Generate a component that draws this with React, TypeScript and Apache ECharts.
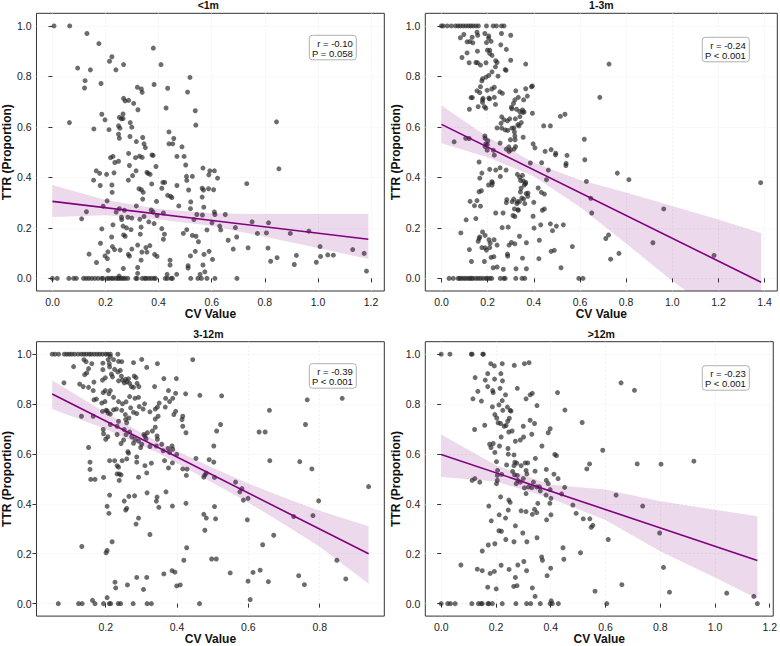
import React, { useEffect, useRef } from "react";
import * as echarts from "echarts";

// ---- panel labels and statistics ----
const panelTitles = ["<1m", "1-3m", "3-12m", ">12m"];
const statR = ["r = -0.10", "r = -0.24", "r = -0.39", "r = -0.23"];
const statP = ["P = 0.058", "P < 0.001", "P < 0.001", "P < 0.001"];

// ---- axis ticks and ranges ----
const yTicks = [0, 0.2, 0.4, 0.6, 0.8, 1.0];
const xTicksLt1m = [0, 0.2, 0.4, 0.6, 0.8, 1.0, 1.2];
const xTicks1to3m = [0, 0.2, 0.4, 0.6, 0.8, 1.0, 1.2, 1.4];
const xTicks3to12m = [0.2, 0.4, 0.6, 0.8];
const xTicksGt12m = [0, 0.2, 0.4, 0.6, 0.8, 1.0, 1.2];
const xRangeLt1m = [-0.06, 1.25];
const xRange1to3m = [-0.07, 1.455];
const xRange3to12m = [0.006, 0.981];
const xRangeGt12m = [-0.058, 1.213];
const yRange = [-0.05, 1.05];

// ---- scatter points: [CV, TTR] ----
const pointsLt1m: number[][] = [
  [0.006, 1.0], [0.065, 1.0], [0.13, 0.97], [0.175, 0.93], [0.38, 0.912], [0.224, 0.878], [0.215, 0.86],
  [0.409, 0.847], [0.268, 0.847], [0.095, 0.833], [0.143, 0.826], [0.239, 0.826], [0.518, 0.796],
  [0.123, 0.783], [0.121, 0.754], [0.183, 0.772], [0.383, 0.768], [0.32, 0.757], [0.335, 0.75],
  [0.338, 0.737], [0.434, 0.753], [0.509, 0.738], [0.268, 0.713], [0.274, 0.703], [0.287, 0.705],
  [0.306, 0.693], [0.322, 0.668], [0.428, 0.675], [0.538, 0.664], [0.266, 0.651], [0.186, 0.65],
  [0.252, 0.638], [0.266, 0.633], [0.26, 0.632], [0.198, 0.628], [0.064, 0.617], [0.293, 0.617],
  [0.299, 0.599], [0.249, 0.604], [0.254, 0.595], [0.54, 0.607], [0.156, 0.592], [0.213, 0.589],
  [0.249, 0.571], [0.252, 0.555], [0.439, 0.58], [0.457, 0.554], [0.453, 0.533], [0.439, 0.533],
  [0.292, 0.562], [0.34, 0.558], [0.345, 0.533], [0.35, 0.518], [0.316, 0.542], [0.488, 0.521],
  [0.469, 0.483], [0.496, 0.483], [0.502, 0.449], [0.287, 0.495], [0.375, 0.489], [0.379, 0.487],
  [0.338, 0.479], [0.313, 0.478], [0.328, 0.484], [0.219, 0.478], [0.228, 0.483], [0.235, 0.459],
  [0.249, 0.464], [0.29, 0.447], [0.39, 0.443], [0.356, 0.42], [0.36, 0.416], [0.315, 0.426],
  [0.368, 0.412], [0.567, 0.437], [0.593, 0.426], [0.61, 0.426], [0.589, 0.41], [0.622, 0.397],
  [0.853, 0.434], [0.844, 0.62], [0.165, 0.426], [0.178, 0.416], [0.204, 0.412], [0.232, 0.418],
  [0.302, 0.407], [0.155, 0.389], [0.286, 0.389], [0.505, 0.404], [0.506, 0.388], [0.527, 0.404],
  [0.416, 0.38], [0.423, 0.38], [0.374, 0.374], [0.18, 0.368], [0.224, 0.37], [0.469, 0.368],
  [0.732, 0.375], [0.326, 0.355], [0.335, 0.351], [0.412, 0.357], [0.564, 0.357], [0.569, 0.35],
  [0.588, 0.355], [0.607, 0.351], [0.513, 0.35], [0.342, 0.341], [0.225, 0.341], [0.434, 0.329],
  [0.445, 0.325], [0.45, 0.32], [0.564, 0.322], [0.392, 0.305], [0.206, 0.307], [0.521, 0.303],
  [0.34, 0.314], [0.191, 0.286], [0.316, 0.287], [0.476, 0.287], [0.57, 0.282], [0.252, 0.276],
  [0.52, 0.276], [0.372, 0.271], [0.271, 0.27], [0.24, 0.263], [0.128, 0.264], [0.379, 0.263],
  [0.418, 0.259], [0.394, 0.249], [0.61, 0.263], [0.612, 0.253], [0.651, 0.253], [0.544, 0.253],
  [0.565, 0.251], [0.26, 0.242], [0.284, 0.242], [0.345, 0.245], [0.11, 0.236], [0.299, 0.239],
  [0.261, 0.233], [0.329, 0.234], [0.533, 0.233], [0.752, 0.224], [0.814, 0.22], [0.601, 0.22],
  [0.363, 0.224], [0.228, 0.212], [0.266, 0.207], [0.279, 0.2], [0.334, 0.203], [0.383, 0.217],
  [0.412, 0.197], [0.63, 0.207], [0.689, 0.201], [0.634, 0.192], [0.186, 0.196], [0.296, 0.193],
  [0.506, 0.193], [0.582, 0.192], [0.966, 0.187], [0.493, 0.178], [0.772, 0.178], [0.806, 0.18],
  [0.896, 0.178], [0.527, 0.17], [0.331, 0.175], [0.268, 0.172], [0.274, 0.167], [0.422, 0.175],
  [0.223, 0.164], [0.541, 0.167], [0.662, 0.151], [0.694, 0.164], [0.418, 0.155], [0.181, 0.139],
  [0.226, 0.126], [0.352, 0.122], [0.321, 0.132], [0.367, 0.13], [0.55, 0.145], [0.737, 0.121],
  [0.812, 0.12], [1.008, 0.126], [1.131, 0.114], [0.681, 0.116], [0.234, 0.114], [0.299, 0.116],
  [0.255, 0.112], [0.538, 0.107], [0.59, 0.107], [0.138, 0.096], [0.209, 0.105], [0.356, 0.104],
  [0.337, 0.104], [1.174, 0.099], [0.198, 0.089], [0.286, 0.095], [0.29, 0.088], [0.385, 0.095],
  [0.394, 0.087], [0.52, 0.089], [0.571, 0.095], [0.919, 0.091], [1.037, 0.093], [1.058, 0.092],
  [1.01, 0.087], [0.846, 0.082], [0.207, 0.078], [0.334, 0.072], [0.443, 0.072], [0.603, 0.075],
  [0.166, 0.063], [0.822, 0.068], [0.994, 0.064], [0.911, 0.055], [0.567, 0.053], [0.443, 0.053],
  [0.511, 0.05], [0.321, 0.043], [0.511, 0.041], [0.267, 0.039], [0.21, 0.032], [1.183, 0.029],
  [0.574, 0.026], [0.321, 0.02], [0.432, 0.016], [0.468, 0.016], [0.556, 0.016], [0.251, 0.009],
  [0, 0], [0.018, 0], [0.062, 0], [0.08, 0], [0.09, 0], [0.117, 0], [0.127, 0], [0.137, 0], [0.148, 0],
  [0.16, 0], [0.172, 0], [0.185, 0], [0.191, 0], [0.206, 0], [0.213, 0], [0.222, 0], [0.228, 0],
  [0.238, 0], [0.246, 0], [0.252, 0], [0.26, 0], [0.267, 0], [0.274, 0], [0.284, 0], [0.314, 0],
  [0.319, 0], [0.338, 0], [0.348, 0], [0.353, 0], [0.363, 0], [0.372, 0], [0.382, 0], [0.388, 0],
  [0.425, 0], [0.433, 0], [0.447, 0], [0.452, 0], [0.521, 0], [0.548, 0], [0.561, 0], [0.582, 0],
  [0.612, 0], [0.695, 0],
];

const points1to3m: number[][] = [
  [0, 1], [0.007, 1], [0.025, 1], [0.043, 1], [0.061, 1], [0.072, 1], [0.082, 1], [0.094, 1], [0.105, 1],
  [0.117, 1], [0.127, 1], [0.137, 1], [0.149, 1], [0.16, 1], [0.195, 1], [0.224, 1], [0.238, 1], [0.26, 1],
  [0.271, 1],
  [0.082, 0.953], [0.097, 0.966], [0.111, 0.937], [0.123, 0.938], [0.133, 0.955], [0.089, 0.875],
  [0.111, 0.893], [0.12, 0.854], [0.136, 0.933], [0.154, 0.975], [0.156, 0.9], [0.157, 0.963],
  [0.149, 0.855], [0.156, 0.854], [0.169, 0.845], [0.188, 0.97], [0.195, 0.934], [0.205, 0.96],
  [0.204, 0.951], [0.215, 0.939], [0.199, 0.904], [0.209, 0.904], [0.193, 0.854], [0.209, 0.891],
  [0.219, 0.883], [0.241, 0.855], [0.26, 0.97], [0.257, 0.925], [0.281, 0.907], [0.235, 0.862],
  [0.276, 0.827], [0.28, 0.824], [0.3, 0.963], [0.3, 0.864], [0.234, 0.838], [0.245, 0.801],
  [0.219, 0.818], [0.726, 0.849], [0.365, 0.849],
  [0.178, 0.791], [0.175, 0.782], [0.193, 0.797], [0.205, 0.804], [0.169, 0.759], [0.154, 0.743],
  [0.166, 0.736], [0.198, 0.745], [0.218, 0.75], [0.229, 0.757], [0.253, 0.739], [0.264, 0.733],
  [0.128, 0.716], [0.134, 0.716], [0.18, 0.713], [0.205, 0.714], [0.209, 0.711], [0.229, 0.717],
  [0.178, 0.707], [0.178, 0.697], [0.186, 0.68], [0.192, 0.674], [0.159, 0.68], [0.121, 0.67],
  [0.234, 0.689], [0.261, 0.64], [0.258, 0.614], [0.271, 0.628], [0.286, 0.624], [0.276, 0.588],
  [0.261, 0.595], [0.287, 0.586], [0.241, 0.596], [0.322, 0.743], [0.333, 0.717], [0.365, 0.751],
  [0.394, 0.762], [0.39, 0.759], [0.372, 0.722], [0.356, 0.707], [0.318, 0.707], [0.312, 0.693],
  [0.305, 0.672], [0.303, 0.678], [0.325, 0.67], [0.339, 0.661], [0.351, 0.667], [0.352, 0.658],
  [0.34, 0.641], [0.32, 0.632], [0.296, 0.632], [0.346, 0.617], [0.331, 0.609], [0.314, 0.596],
  [0.305, 0.595], [0.316, 0.58], [0.394, 0.654], [0.358, 0.659], [0.336, 0.604],
  [0.686, 0.717], [0.515, 0.642], [0.535, 0.65], [0.472, 0.604], [0.443, 0.604],
  [0.188, 0.564], [0.189, 0.555], [0.105, 0.555], [0.12, 0.554], [0.055, 0.541], [0.192, 0.533],
  [0.201, 0.545], [0.199, 0.53], [0.189, 0.522], [0.198, 0.508], [0.225, 0.507], [0.229, 0.488],
  [0.254, 0.536], [0.281, 0.512], [0.3, 0.509], [0.293, 0.503], [0.318, 0.564], [0.319, 0.549],
  [0.321, 0.522], [0.315, 0.512], [0.292, 0.521], [0.354, 0.559], [0.397, 0.533], [0.405, 0.517],
  [0.299, 0.549],
  [0.475, 0.51], [0.494, 0.489], [0.495, 0.496], [0.449, 0.503], [0.434, 0.458], [0.385, 0.457],
  [0.54, 0.455], [0.539, 0.447], [0.544, 0.487], [0.619, 0.551], [0.621, 0.47], [0.628, 0.384],
  [0.163, 0.461], [0.175, 0.417], [0.166, 0.397], [0.209, 0.432], [0.221, 0.379], [0.219, 0.37],
  [0.254, 0.438], [0.255, 0.404], [0.235, 0.429], [0.28, 0.429], [0.329, 0.412], [0.339, 0.4],
  [0.351, 0.408], [0.343, 0.387], [0.355, 0.386], [0.364, 0.375], [0.359, 0.37], [0.345, 0.357],
  [0.342, 0.342], [0.367, 0.336], [0.374, 0.325], [0.375, 0.338], [0.365, 0.38], [0.329, 0.304],
  [0.327, 0.296], [0.338, 0.304], [0.348, 0.318], [0.356, 0.314], [0.361, 0.296], [0.313, 0.314],
  [0.306, 0.304], [0.283, 0.312], [0.281, 0.3], [0.316, 0.275], [0.31, 0.249], [0.318, 0.245],
  [0.331, 0.272], [0.333, 0.27], [0.267, 0.259], [0.235, 0.259], [0.163, 0.343], [0.173, 0.347],
  [0.154, 0.308], [0.169, 0.286], [0.143, 0.288], [0.124, 0.305], [0.107, 0.232], [0.149, 0.237],
  [0.4, 0.301], [0.397, 0.246], [0.401, 0.199], [0.419, 0.358], [0.433, 0.341], [0.446, 0.334],
  [0.446, 0.275], [0.437, 0.27], [0.455, 0.391], [0.43, 0.212], [0.472, 0.216], [0.481, 0.189],
  [0.498, 0.207], [0.528, 0.212], [0.463, 0.429], [0.424, 0.151], [0.422, 0.078], [0.475, 0.107],
  [0.489, 0.111], [0.518, 0.042], [0.567, 0.126], [0.647, 0.317], [0.651, 0.259], [0.762, 0.417],
  [0.812, 0.391], [0.712, 0.158], [0.724, 0.172], [0.733, 0.076], [0.769, 0.099], [0.916, 0.141],
  [0.963, 0.275], [1.181, 0.091], [1.383, 0.379], [0.204, 0.37], [0.218, 0.383],
  [0.084, 0.18], [0.121, 0.114], [0.13, 0.067], [0.159, 0.147], [0.163, 0.158], [0.166, 0.164],
  [0.178, 0.184], [0.189, 0.17], [0.175, 0.122], [0.189, 0.121], [0.195, 0.112], [0.206, 0.153],
  [0.211, 0.139], [0.209, 0.122], [0.186, 0.067], [0.215, 0.083], [0.227, 0.086], [0.228, 0.153],
  [0.241, 0.132], [0.241, 0.045], [0.224, 0.042], [0.268, 0.036], [0.287, 0.088], [0.286, 0.096],
  [0.293, 0.132], [0.289, 0.203], [0.263, 0.201], [0.303, 0.142], [0.318, 0.137], [0.338, 0.167],
  [0.351, 0.08], [0.368, 0.141], [0.323, 0.038], [0.368, 0.038],
  [0.033, 0], [0.051, 0], [0.072, 0], [0.079, 0], [0.087, 0], [0.097, 0], [0.105, 0], [0.115, 0],
  [0.123, 0], [0.13, 0], [0.137, 0], [0.149, 0], [0.159, 0], [0.169, 0], [0.18, 0], [0.192, 0],
  [0.199, 0], [0.209, 0], [0.218, 0], [0.255, 0], [0.27, 0], [0.276, 0], [0.322, 0], [0.349, 0],
  [0.361, 0], [0.595, 0], [0.613, 0],
];

const points3to12m: number[][] = [
  [0.05, 1], [0.058, 1], [0.068, 1], [0.084, 1], [0.091, 1], [0.098, 1], [0.105, 1], [0.113, 1],
  [0.123, 1], [0.132, 1], [0.139, 1], [0.146, 1], [0.154, 1], [0.16, 1], [0.168, 1], [0.176, 1],
  [0.183, 1], [0.191, 1], [0.2, 1], [0.206, 1], [0.213, 1], [0.234, 1],
  [0.139, 0.978], [0.145, 0.97], [0.161, 0.962], [0.192, 0.964], [0.207, 0.978], [0.213, 0.991],
  [0.21, 0.962], [0.222, 0.978], [0.236, 0.971], [0.245, 0.97], [0.278, 0.966], [0.301, 0.979],
  [0.315, 0.947], [0.345, 0.962], [0.444, 0.978], [0.11, 0.95], [0.083, 0.885], [0.127, 0.88],
  [0.137, 0.87], [0.141, 0.918], [0.147, 0.925], [0.152, 0.942], [0.167, 0.888], [0.152, 0.867],
  [0.165, 0.854], [0.192, 0.938], [0.191, 0.896], [0.199, 0.905], [0.211, 0.949], [0.219, 0.909],
  [0.216, 0.92], [0.225, 0.939], [0.234, 0.929], [0.241, 0.935], [0.244, 0.912], [0.247, 0.896],
  [0.252, 0.885], [0.236, 0.893], [0.256, 0.899], [0.259, 0.889], [0.267, 0.883], [0.272, 0.87],
  [0.28, 0.912], [0.288, 0.883], [0.285, 0.906], [0.293, 0.87], [0.278, 0.867], [0.264, 0.901],
  [0.337, 0.87], [0.363, 0.902], [0.398, 0.902], [0.376, 0.854], [0.396, 0.843], [0.424, 0.841],
  [0.464, 0.835], [0.525, 0.833], [0.765, 0.817], [0.863, 0.823],
  [0.193, 0.846], [0.199, 0.854], [0.209, 0.841], [0.213, 0.854], [0.222, 0.827], [0.174, 0.82],
  [0.189, 0.804], [0.198, 0.81], [0.201, 0.775], [0.191, 0.771], [0.204, 0.773], [0.207, 0.764],
  [0.213, 0.76], [0.222, 0.777], [0.23, 0.78], [0.236, 0.81], [0.247, 0.801], [0.245, 0.775],
  [0.257, 0.809], [0.267, 0.83], [0.27, 0.785], [0.282, 0.823], [0.292, 0.827], [0.294, 0.79],
  [0.278, 0.767], [0.287, 0.762], [0.305, 0.78], [0.309, 0.801], [0.324, 0.769], [0.339, 0.78],
  [0.347, 0.751], [0.339, 0.74], [0.345, 0.788], [0.35, 0.804], [0.368, 0.823], [0.379, 0.81],
  [0.388, 0.823], [0.416, 0.751], [0.414, 0.738], [0.416, 0.711], [0.367, 0.788], [0.391, 0.758],
  [0.425, 0.685], [0.396, 0.771], [0.132, 0.751], [0.165, 0.751], [0.167, 0.817], [0.255, 0.758],
  [0.256, 0.738], [0.259, 0.725], [0.265, 0.744],
  [0.193, 0.698], [0.194, 0.681], [0.213, 0.718], [0.236, 0.731], [0.232, 0.711], [0.232, 0.678],
  [0.252, 0.698], [0.257, 0.678], [0.267, 0.688], [0.273, 0.669], [0.25, 0.656], [0.243, 0.642],
  [0.262, 0.609], [0.278, 0.643], [0.282, 0.659], [0.292, 0.652], [0.301, 0.639], [0.298, 0.626],
  [0.307, 0.678], [0.31, 0.672], [0.313, 0.661], [0.317, 0.685], [0.331, 0.692], [0.344, 0.672],
  [0.339, 0.707], [0.345, 0.659], [0.357, 0.639], [0.361, 0.613], [0.375, 0.622], [0.386, 0.632],
  [0.342, 0.632], [0.324, 0.63], [0.2, 0.659], [0.206, 0.669], [0.511, 0.692], [0.522, 0.718],
  [0.503, 0.632], [0.63, 0.688], [0.647, 0.688], [0.659, 0.775], [0.76, 0.718],
  [0.152, 0.626], [0.156, 0.567], [0.156, 0.538], [0.158, 0.498], [0.17, 0.498], [0.194, 0.506],
  [0.211, 0.573], [0.225, 0.573], [0.232, 0.553], [0.236, 0.547], [0.238, 0.52], [0.232, 0.52],
  [0.243, 0.516], [0.246, 0.573], [0.238, 0.494], [0.259, 0.58], [0.264, 0.603], [0.287, 0.588],
  [0.287, 0.567], [0.31, 0.553], [0.315, 0.524], [0.328, 0.563], [0.365, 0.573], [0.376, 0.544],
  [0.387, 0.564], [0.388, 0.619], [0.379, 0.606], [0.399, 0.598], [0.416, 0.54], [0.428, 0.539],
  [0.426, 0.514], [0.453, 0.582], [0.49, 0.577], [0.503, 0.567], [0.478, 0.516], [0.482, 0.523],
  [0.475, 0.507], [0.505, 0.506], [0.564, 0.487], [0.582, 0.461], [0.66, 0.573], [0.744, 0.569],
  [0.778, 0.54],
  [0.204, 0.39], [0.209, 0.362], [0.211, 0.435], [0.252, 0.411], [0.256, 0.375], [0.259, 0.382],
  [0.265, 0.43], [0.285, 0.319], [0.292, 0.343], [0.281, 0.432], [0.292, 0.507], [0.316, 0.444],
  [0.344, 0.427], [0.342, 0.411], [0.349, 0.386], [0.369, 0.448], [0.387, 0.391], [0.425, 0.402],
  [0.475, 0.358], [0.482, 0.343], [0.478, 0.294], [0.505, 0.389], [0.508, 0.34], [0.576, 0.448],
  [0.586, 0.415], [0.599, 0.422], [0.597, 0.336], [0.781, 0.353], [0.727, 0.349], [0.797, 0.412],
  [0.937, 0.469], [0.324, 0.277], [0.218, 0.248], [0.671, 0.274], [0.64, 0.236],
  [0.133, 0.229], [0.201, 0.204], [0.204, 0.213], [0.427, 0.224], [0.419, 0.174], [0.497, 0.179],
  [0.51, 0.179], [0.363, 0.119], [0.386, 0.132], [0.394, 0.126], [0.399, 0.071], [0.409, 0.075],
  [0.287, 0.105], [0.315, 0.105], [0.226, 0.086], [0.228, 0.063], [0.261, 0.075], [0.306, 0.057],
  [0.204, 0.024], [0.163, 0.013], [0.549, 0.123], [0.599, 0.09], [0.613, 0.125], [0.633, 0.134],
  [0.656, 0.088], [0.741, 0.112], [0.757, 0.076], [0.848, 0.174], [0.873, 0.099], [0.605, 0.016],
  [0.067, 0], [0.124, 0], [0.134, 0], [0.17, 0], [0.194, 0], [0.21, 0], [0.214, 0], [0.235, 0],
  [0.242, 0], [0.277, 0], [0.316, 0], [0.328, 0], [0.463, 0],
];

const pointsGt12m: number[][] = [
  [0, 1], [0.032, 1], [0.11, 1], [0.113, 1], [0.152, 1], [0.154, 1],
  [0.181, 0.962], [0.194, 0.953], [0.223, 0.962], [0.267, 0.955], [0.304, 0.962], [0.321, 0.966],
  [0.124, 0.906], [0.161, 0.896], [0.195, 0.9], [0.17, 0.922], [0.218, 0.922], [0.224, 0.893],
  [0.657, 0.885], [0.706, 0.855], [0.134, 0.851], [0.17, 0.87], [0.188, 0.854], [0.19, 0.846],
  [0.215, 0.863], [0.235, 0.837], [0.278, 0.863], [0.31, 0.821], [0.325, 0.837], [0.333, 0.843],
  [0.425, 0.846], [0.116, 0.821], [0.147, 0.812], [0.187, 0.789], [0.211, 0.797], [0.223, 0.814],
  [0.242, 0.788], [0.225, 0.775], [0.252, 0.775], [0.255, 0.772], [0.35, 0.794], [0.452, 0.776],
  [0.515, 0.726], [0.122, 0.698], [0.159, 0.715], [0.196, 0.758], [0.203, 0.744], [0.208, 0.725],
  [0.217, 0.722], [0.23, 0.711], [0.237, 0.714], [0.243, 0.731], [0.249, 0.743], [0.247, 0.688],
  [0.259, 0.692], [0.3, 0.711], [0.325, 0.735], [0.331, 0.679], [0.341, 0.722], [0.301, 0.668],
  [0.289, 0.656], [0.271, 0.651], [0.391, 0.685], [0.398, 0.701], [0.219, 0.668], [0.213, 0.632],
  [0.177, 0.639], [0.182, 0.626], [0.19, 0.642], [0.196, 0.606], [0.202, 0.569], [0.206, 0.534],
  [0.205, 0.514], [0.221, 0.518], [0.239, 0.556], [0.245, 0.599], [0.244, 0.622], [0.266, 0.596],
  [0.269, 0.567], [0.276, 0.563], [0.266, 0.553], [0.261, 0.53], [0.268, 0.516], [0.28, 0.494],
  [0.274, 0.481], [0.278, 0.514], [0.289, 0.487], [0.292, 0.553], [0.307, 0.564], [0.316, 0.564],
  [0.31, 0.534], [0.313, 0.52], [0.3, 0.501], [0.304, 0.464], [0.31, 0.441], [0.319, 0.468],
  [0.331, 0.465], [0.337, 0.487], [0.344, 0.582], [0.343, 0.531], [0.349, 0.468], [0.359, 0.468],
  [0.362, 0.452], [0.368, 0.632], [0.384, 0.494], [0.391, 0.481], [0.398, 0.457], [0.384, 0.538],
  [0.401, 0.422], [0.397, 0.402], [0.412, 0.519], [0.415, 0.598], [0.421, 0.593], [0.427, 0.501],
  [0.44, 0.44], [0.451, 0.466], [0.481, 0.395], [0.493, 0.362], [0.519, 0.34], [0.532, 0.54],
  [0.542, 0.56], [0.543, 0.34], [0.548, 0.306], [0.554, 0.314], [0.59, 0.615], [0.639, 0.435],
  [0.61, 0.257], [0.716, 0.56], [0.736, 0.391], [0.803, 0.559], [0.798, 0.283], [0.923, 0.571],
  [0.113, 0.494], [0.123, 0.501], [0.141, 0.487], [0.205, 0.494], [0.202, 0.481], [0.217, 0.428],
  [0.212, 0.356], [0.174, 0.391], [0.183, 0.332], [0.211, 0.292], [0.22, 0.29], [0.235, 0.343],
  [0.245, 0.375], [0.247, 0.415], [0.252, 0.406], [0.236, 0.257], [0.266, 0.248], [0.271, 0.312],
  [0.292, 0.372], [0.31, 0.369], [0.298, 0.283], [0.313, 0.248], [0.333, 0.358], [0.341, 0.378],
  [0.349, 0.365], [0.353, 0.402], [0.383, 0.435], [0.385, 0.336], [0.401, 0.356], [0.35, 0.264],
  [0.15, 0.211], [0.132, 0.138], [0.15, 0.132], [0.172, 0.235], [0.179, 0.121], [0.194, 0.129],
  [0.196, 0.24], [0.17, 0.066], [0.201, 0.059], [0.219, 0.154], [0.248, 0.137], [0.265, 0.069],
  [0.271, 0.105], [0.28, 0.155], [0.277, 0.072], [0.302, 0.169], [0.312, 0.132], [0.333, 0.063],
  [0.343, 0.029], [0.367, 0.187], [0.37, 0.174], [0.387, 0.112], [0.4, 0.142], [0.402, 0.011],
  [0.445, 0.224], [0.448, 0.178], [0.509, 0.204], [0.562, 0.05], [0.66, 0.076], [0.812, 0.145],
  [0.834, 0.046], [1.043, 0.042], [1.142, 0.029], [0.072, 0.155],
  [0, 0], [0.024, 0], [0.034, 0], [0.051, 0], [0.112, 0], [0.136, 0], [0.146, 0], [0.15, 0],
  [0.171, 0], [0.174, 0], [0.187, 0], [0.223, 0], [0.273, 0], [0.312, 0], [0.327, 0], [0.362, 0],
  [0.398, 0], [0.406, 0], [0.428, 0], [0.605, 0], [1.155, 0],
];

// ---- fitted regression lines (end points) and confidence bands ----
const fitLt1m = [[0, 0.305], [1.19, 0.155]];
const bandXLt1m = [0, 0.2, 0.4, 0.6, 0.8, 1.0, 1.19];
const bandLoLt1m = [0.243, 0.25, 0.233, 0.208, 0.165, 0.12, 0.077];
const bandHiLt1m = [0.37, 0.31, 0.275, 0.258, 0.255, 0.255, 0.255];

const fit1to3m = [[0, 0.61], [1.385, -0.015]];
const bandX1to3m = [0, 0.2, 0.4, 0.6, 0.8, 1.0, 1.2, 1.385];
const bandLo1to3m = [0.535, 0.48, 0.405, 0.283, 0.138, -0.01, -0.14, -0.26];
const bandHi1to3m = [0.685, 0.56, 0.458, 0.39, 0.34, 0.287, 0.233, 0.18];

const fit3to12m = [[0.05, 0.84], [0.937, 0.2]];
const bandX3to12m = [0.05, 0.2, 0.35, 0.5, 0.6, 0.7, 0.8, 0.937];
const bandLo3to12m = [0.78, 0.7, 0.602, 0.485, 0.405, 0.318, 0.228, 0.08];
const bandHi3to12m = [0.895, 0.765, 0.645, 0.545, 0.482, 0.425, 0.372, 0.31];

const fitGt12m = [[0, 0.598], [1.155, 0.173]];
const bandXGt12m = [0, 0.2, 0.4, 0.6, 0.8, 1.0, 1.155];
const bandLoGt12m = [0.508, 0.49, 0.422, 0.335, 0.21, 0.105, 0.02];
const bandHiGt12m = [0.678, 0.555, 0.477, 0.458, 0.41, 0.376, 0.35];

const panels = [
  { points: pointsLt1m, fit: fitLt1m, bx: bandXLt1m, lo: bandLoLt1m, hi: bandHiLt1m, xTicks: xTicksLt1m, xRange: xRangeLt1m },
  { points: points1to3m, fit: fit1to3m, bx: bandX1to3m, lo: bandLo1to3m, hi: bandHi1to3m, xTicks: xTicks1to3m, xRange: xRange1to3m },
  { points: points3to12m, fit: fit3to12m, bx: bandX3to12m, lo: bandLo3to12m, hi: bandHi3to12m, xTicks: xTicks3to12m, xRange: xRange3to12m },
  { points: pointsGt12m, fit: fitGt12m, bx: bandXGt12m, lo: bandLoGt12m, hi: bandHiGt12m, xTicks: xTicksGt12m, xRange: xRangeGt12m },
];

// ---- layout ----
const FONT = "'Liberation Sans', Arial, Helvetica, sans-serif";
const gridLefts = [32.3, 425.3];
const gridTops = [13.3, 341.7];
const GRID_W = 352;
const GRID_H = 277.7;
const PURPLE = "#800080";

function buildOption() {
  const grid: any[] = [];
  const xAxis: any[] = [];
  const yAxis: any[] = [];
  const series: any[] = [];
  const graphic: any[] = [];

  panels.forEach((p, i) => {
    const left = gridLefts[i % 2];
    const top = gridTops[Math.floor(i / 2)];
    grid.push({
      left, top, width: GRID_W, height: GRID_H,
      show: true, borderColor: "#333", borderWidth: 1, backgroundColor: "transparent",
    });
    const splitLine = { show: true, lineStyle: { color: "#ececec", width: 0.7, type: [2, 2] } };
    xAxis.push({
      gridIndex: i, type: "value", min: p.xRange[0], max: p.xRange[1],
      axisLine: { show: false },
      axisTick: { show: true, length: 4, customValues: p.xTicks, lineStyle: { color: "#333" } },
      axisLabel: {
        customValues: p.xTicks, formatter: (v: number) => v.toFixed(1),
        fontSize: 10.5, color: "#222", margin: 5, fontFamily: FONT,
      },
      splitLine,
      name: "CV Value", nameLocation: "middle", nameGap: 16,
      nameTextStyle: { fontWeight: "bold", fontSize: 12, color: "#111", fontFamily: FONT },
    });
    yAxis.push({
      gridIndex: i, type: "value", min: yRange[0], max: yRange[1],
      axisLine: { show: false },
      axisTick: { show: true, length: 4, customValues: yTicks, lineStyle: { color: "#333" } },
      axisLabel: {
        customValues: yTicks, formatter: (v: number) => v.toFixed(1),
        fontSize: 10.5, color: "#222", margin: 5, fontFamily: FONT,
      },
      splitLine,
      name: "TTR (Proportion)", nameLocation: "middle", nameGap: 20,
      nameTextStyle: { fontWeight: "bold", fontSize: 12, color: "#111", fontFamily: FONT },
    });

    series.push({
      type: "scatter", xAxisIndex: i, yAxisIndex: i, data: p.points, symbolSize: 5, z: 2,
      itemStyle: { color: "rgba(40,40,40,0.85)" }, silent: true,
    });
    series.push({
      type: "custom", xAxisIndex: i, yAxisIndex: i, clip: true, silent: true, z: 3,
      data: [[p.bx[0], p.lo[0]]],
      renderItem: (_params: any, api: any) => {
        const pts: number[][] = [];
        p.bx.forEach((x, k) => pts.push(api.coord([x, p.hi[k]])));
        for (let k = p.bx.length - 1; k >= 0; k--) pts.push(api.coord([p.bx[k], p.lo[k]]));
        return { type: "polygon", shape: { points: pts }, style: { fill: "rgba(128,0,128,0.15)" } };
      },
    });
    series.push({
      type: "line", xAxisIndex: i, yAxisIndex: i, data: p.fit, showSymbol: false, symbol: "none",
      lineStyle: { color: PURPLE, width: 1.6 }, z: 4, silent: true,
    });

    // panel title
    graphic.push({
      type: "text", x: left + GRID_W / 2, y: top - 8,
      style: {
        text: panelTitles[i], align: "center", verticalAlign: "middle",
        fontSize: 10.5, fontWeight: "bold", fill: "#111", fontFamily: FONT,
      },
    });
    // statistics box
    const bx = left + 277;
    const by = top + (i % 2 === 0 ? 22 : 24);
    graphic.push({
      type: "rect", shape: { x: bx, y: by, width: 47, height: 24.5, r: 3 },
      style: { fill: "rgba(255,255,255,0.9)", stroke: "#b0b0b0", lineWidth: 1 }, z: 10,
    });
    graphic.push({
      type: "text", x: bx + 43.5, y: by + 2.5, z: 11,
      style: {
        text: statR[i] + "\n" + statP[i], align: "right", verticalAlign: "top",
        fontSize: 9.5, lineHeight: 10.5, fill: "#111", fontFamily: FONT,
      },
    });
  });

  return { animation: false, backgroundColor: "#fff", grid, xAxis, yAxis, series, graphic };
}

export default function App() {
  const ref = useRef<HTMLDivElement>(null);
  useEffect(() => {
    if (!ref.current) return;
    const chart = echarts.init(ref.current, undefined, { renderer: "svg" });
    chart.setOption(buildOption());
    return () => chart.dispose();
  }, []);
  return (
    <div
      ref={ref}
      style={{ position: "fixed", left: 0, top: 0, width: 780, height: 646, background: "#fff" }}
    />
  );
}
